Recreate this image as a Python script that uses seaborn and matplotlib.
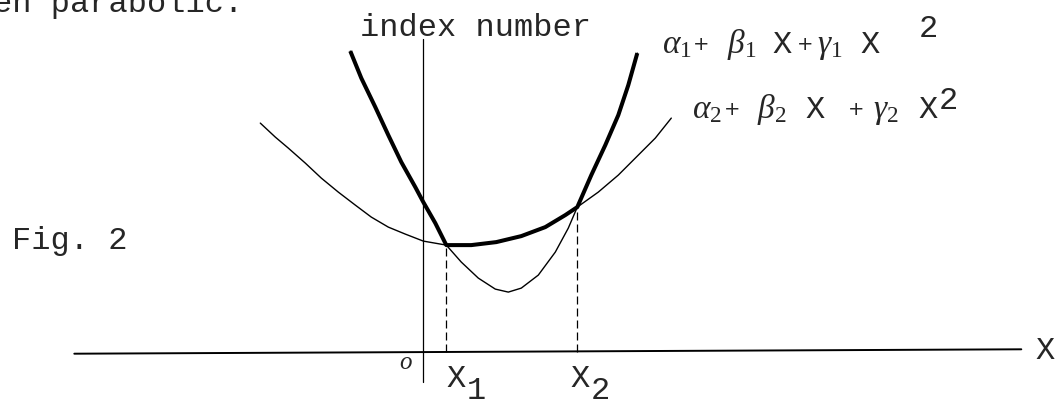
import matplotlib
matplotlib.use("Agg")
import matplotlib.pyplot as plt
import seaborn as sns


# Curve points (origin where the two axes cross)
narrow_x = [-0.73, -0.62, -0.48, -0.35, -0.22, -0.08, 0.00, 0.12, 0.23,
            0.38, 0.55, 0.72, 0.85, 0.98, 1.15, 1.32, 1.45, 1.54,
            1.68, 1.82, 1.95, 2.05, 2.14]
narrow_y = [3.01, 2.74, 2.45, 2.17, 1.90, 1.65, 1.50, 1.29, 1.07,
            0.90, 0.74, 0.63, 0.60, 0.64, 0.77, 1.00, 1.24, 1.45,
            1.77, 2.07, 2.37, 2.67, 2.99]

wide_x = [-1.63, -1.48, -1.35, -1.18, -1.02, -0.85, -0.68, -0.52, -0.35,
          -0.18, 0.00, 0.23, 0.48, 0.73, 0.98, 1.22, 1.42, 1.54,
          1.75, 1.95, 2.15, 2.32, 2.48]
wide_y = [2.29, 2.15, 2.04, 1.89, 1.74, 1.60, 1.47, 1.35, 1.25,
          1.18, 1.11, 1.07, 1.07, 1.10, 1.16, 1.25, 1.37, 1.45,
          1.60, 1.77, 1.97, 2.14, 2.34]

# crossing points of the two curves
cross_x = [0.23, 1.54]
cross_y = [1.07, 1.45]
cross_labels = ["1", "2"]

# axis lines
h_axis_x = [-3.49, 5.98]
h_axis_y = [-0.016, 0.028]
v_axis_x = [0.0, 0.0]
v_axis_y = [-0.30, 3.13]

TYPE_SIZE = 23


def upper_envelope():
    # thick line: outer parts of the narrow curve, middle part of the wide one
    i1 = narrow_x.index(cross_x[0])
    i2 = narrow_x.index(cross_x[1])
    j1 = wide_x.index(cross_x[0])
    j2 = wide_x.index(cross_x[1])
    xs = narrow_x[:i1 + 1] + wide_x[j1 + 1:j2] + narrow_x[i2:]
    ys = narrow_y[:i1 + 1] + wide_y[j1 + 1:j2] + narrow_y[i2:]
    return xs, ys


def draw_formula(ax, idx, x0, base):
    # hand-lettered greek, typed X's
    a, b, g = [r"$\alpha_%d$" % idx, r"$\beta_%d$" % idx, r"$\gamma_%d$" % idx]
    greek_kw = dict(fontsize=24, ha="left", va="baseline")
    plus_kw = dict(fontsize=14, family="DejaVu Sans", ha="left", va="baseline")
    type_kw = dict(fontsize=TYPE_SIZE, ha="left", va="baseline")
    if idx == 1:
        pos = [0.0, 0.31, 0.65, 1.10, 1.35, 1.55, 1.98, 2.56]
        sup = 0.16
    else:
        pos = [0.0, 0.32, 0.65, 1.13, 1.56, 1.81, 2.26, 2.46]
        sup = 0.09
    ax.text(x0 + pos[0], base, a, **greek_kw)
    ax.text(x0 + pos[1], base + 0.03, "+", **plus_kw)
    ax.text(x0 + pos[2], base, b, **greek_kw)
    ax.text(x0 + pos[3], base, "X", **type_kw)
    ax.text(x0 + pos[4], base + 0.03, "+", **plus_kw)
    ax.text(x0 + pos[5], base, g, **greek_kw)
    ax.text(x0 + pos[6], base, "X", **type_kw)
    ax.text(x0 + pos[7], base + sup, "2", **type_kw)


def main():
    sns.set_style("white")
    plt.rcParams["font.family"] = ["Liberation Mono", "DejaVu Sans Mono"]
    plt.rcParams["mathtext.fontset"] = "custom"
    plt.rcParams["mathtext.rm"] = "Liberation Serif"
    plt.rcParams["mathtext.it"] = "Liberation Serif:italic"

    fig = plt.figure(figsize=(10.58, 4.04), dpi=100)
    ax = fig.add_axes([0, 0, 1, 1])
    ax.set_xlim(-4.233, 6.347)
    ax.set_ylim(-0.519, 3.521)
    ax.set_axis_off()

    line_kws = dict(color="black", estimator=None, sort=False, ax=ax)

    sns.lineplot(x=h_axis_x, y=h_axis_y, linewidth=1.4, **line_kws)
    sns.lineplot(x=v_axis_x, y=v_axis_y, linewidth=0.9, **line_kws)

    sns.lineplot(x=narrow_x, y=narrow_y, linewidth=1.0,
                 solid_joinstyle="round", **line_kws)
    sns.lineplot(x=wide_x, y=wide_y, linewidth=1.0,
                 solid_joinstyle="round", **line_kws)

    env_x, env_y = upper_envelope()
    sns.lineplot(x=env_x, y=env_y, linewidth=2.9, solid_joinstyle="round",
                 solid_capstyle="butt", **line_kws)

    for cx, cy in zip(cross_x, cross_y):
        sns.lineplot(x=[cx, cx], y=[0.0, cy], linewidth=0.9,
                     linestyle=(0, (6.4, 3.2)), **line_kws)

    # labels under the axis
    for lx, lab in zip([0.23, 1.47], cross_labels):
        ax.text(lx, -0.35, "X", fontsize=TYPE_SIZE, ha="left", va="baseline")
        ax.text(lx + 0.20, -0.47, lab, fontsize=TYPE_SIZE, ha="left",
                va="baseline")

    ax.text(-0.18, -0.11, "o", fontsize=18, fontstyle="italic",
            family="Liberation Serif", ha="center", va="center")
    ax.text(6.12, -0.07, "X", fontsize=TYPE_SIZE, ha="left", va="baseline")

    ax.text(-0.63, 3.16, "index number", fontsize=TYPE_SIZE, ha="left",
            va="baseline")
    ax.text(-4.11, 1.03, "Fig. 2", fontsize=TYPE_SIZE, ha="left",
            va="baseline")
    ax.text(-4.30, 3.40, "en parabolic.", fontsize=TYPE_SIZE, ha="left",
            va="baseline", clip_on=False)

    draw_formula(ax, 1, 2.39, 2.99)
    draw_formula(ax, 2, 2.69, 2.34)

    fig.savefig("out.png", dpi=100)
    plt.close(fig)


if __name__ == "__main__":
    main()
